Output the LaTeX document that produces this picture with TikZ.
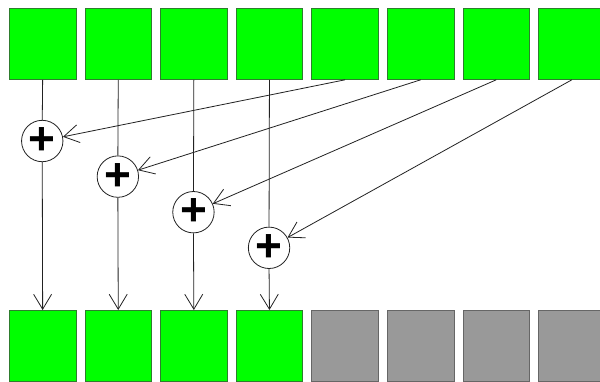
\documentclass[tikz,border=0pt]{standalone}
\usepackage{fontspec}
\setmainfont{Liberation Sans}
\usetikzlibrary{arrows.meta}
\definecolor{gfill}{HTML}{00FF00}
\definecolor{gedge}{HTML}{2E7D2E}
\definecolor{rfill}{HTML}{999999}
\definecolor{redge}{HTML}{666666}
\definecolor{linec}{HTML}{222222}
\tikzset{
  cell/.style={rectangle, inner sep=0pt, minimum width=66.5pt, minimum height=71pt, line width=0.8pt, anchor=north west},
  gcell/.style={cell, draw=gedge, fill=gfill},
  rcell/.style={cell, draw=redge, fill=rfill},
  adder/.style={circle, draw=linec, fill=white, line width=0.8pt, minimum size=41.4pt, inner sep=0pt,
    font=\fontsize{46}{46}\selectfont\bfseries},
  conn/.style={draw=linec, line width=0.8pt},
  arr/.style={conn, -{Straight Barb[length=15pt,width=18pt,line width=0.8pt]}}
}
\begin{document}
\begin{tikzpicture}[x=1pt,y=-1pt]
\clip (0,0) rectangle (600,381);
\fill[white] (0,0) rectangle (600,381);
\foreach \i in {0,...,7} {
  \node[gcell] (t\i) at ({9+75.6*\i},8) {};
}
\foreach \i in {0,...,3} {
  \node[gcell] (b\i) at ({9+75.6*\i},310) {};
}
\foreach \i in {4,...,7} {
  \node[rcell] (b\i) at ({9+75.6*\i},310) {};
}
\foreach \i in {0,...,3} {
  \node[adder] (c\i) at ({42.25+75.6*\i},{141+35.6*\i}) {+};
}
\foreach \i [evaluate=\i as \j using int(\i+4)] in {0,...,3} {
  \draw[conn] (t\i.south) -- (c\i.north);
  \draw[arr] (c\i.south) -- (b\i.north);
  \draw[arr] (t\j.south) -- (c\i);
}
\end{tikzpicture}
\end{document}
